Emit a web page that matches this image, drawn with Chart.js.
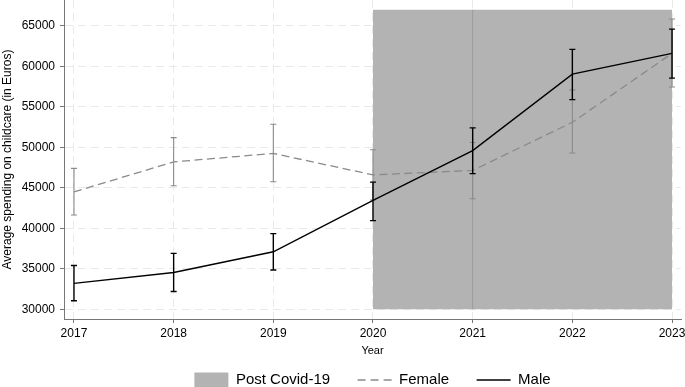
<!DOCTYPE html>
<html>
<head>
<meta charset="utf-8">
<script src="https://cdn.jsdelivr.net/npm/chart.js@4"></script>
<style>
  html, body { margin: 0; padding: 0; background: #fff; }
  #wrap { position: relative; width: 685px; height: 387px; }
</style>
</head>
<body>
<div id="wrap"><canvas id="chart"></canvas></div>
<script>
// ── Data ────────────────────────────────────────────────────
const years = [2017, 2018, 2019, 2020, 2021, 2022, 2023];
const maleMean = [33200, 34550, 37100, 43450, 49600, 59050, 61600];
const maleLow  = [31050, 32200, 34850, 40950, 46750, 55900, 58550];
const maleHigh = [35400, 36900, 39350, 45700, 52400, 62100, 64600];
const femaleMean = [44500, 48200, 49250, 46600, 47150, 53100, 61600];
const femaleLow  = [41650, 45250, 45750, 43500, 43650, 49300, 57450];
const femaleHigh = [47400, 51200, 52850, 49700, 50600, 57100, 65850];
const yTicks = [30000, 35000, 40000, 45000, 50000, 55000, 60000, 65000];
const covidYears = [2020, 2023];
const covidRange = [30000, 67000];
const markYear = 2021;

const FONT = '"Liberation Sans", Arial, Helvetica, sans-serif';
const COVID_GREY = '#b3b3b3';
const FEMALE_GREY = '#8a8a8a';
const AXIS_GREY = '#777777';

const pts = (xs, ys) => xs.map((x, i) => ({ x: x, y: ys[i] }));

// ── Error bars, drawn right after their own line ────────────
const errorBars = {
  id: 'errorBars',
  afterDatasetDraw(chart, args) {
    const ds = chart.data.datasets[args.index];
    if (!ds.errLow) return;
    const { ctx, scales: { x, y } } = chart;
    const cap = 3;
    ctx.save();
    ctx.strokeStyle = ds.borderColor;
    ctx.lineWidth = ds.errWidth;
    ctx.setLineDash([]);
    ds.data.forEach((p, i) => {
      const px = x.getPixelForValue(p.x);
      const lo = y.getPixelForValue(ds.errLow[i]);
      const hi = y.getPixelForValue(ds.errHigh[i]);
      ctx.beginPath();
      ctx.moveTo(px, lo); ctx.lineTo(px, hi);
      ctx.moveTo(px - cap, lo); ctx.lineTo(px + cap, lo);
      ctx.moveTo(px - cap, hi); ctx.lineTo(px + cap, hi);
      ctx.stroke();
    });
    ctx.restore();
  }
};

new Chart(document.getElementById('chart'), {
  type: 'line',
  data: {
    datasets: [
      {
        label: 'Male',
        data: pts(years, maleMean),
        errLow: maleLow, errHigh: maleHigh, errWidth: 1.4,
        borderColor: '#000000', borderWidth: 1.4,
        pointRadius: 0, tension: 0, fill: false
      },
      {
        label: 'Female',
        data: pts(years, femaleMean),
        errLow: femaleLow, errHigh: femaleHigh, errWidth: 1.1,
        borderColor: FEMALE_GREY, borderWidth: 1.3, borderDash: [8, 4.5],
        pointRadius: 0, tension: 0, fill: false
      },
      {
        label: 'marker',
        data: pts([markYear, markYear], covidRange),
        borderColor: '#9a9a9a', borderWidth: 1,
        pointRadius: 0, fill: false
      },
      {
        label: 'Post Covid-19',
        data: pts(covidYears, [covidRange[1], covidRange[1]]),
        borderWidth: 0, borderColor: COVID_GREY, backgroundColor: COVID_GREY,
        pointRadius: 0, fill: { value: covidRange[0] }
      }
    ]
  },
  options: {
    responsive: true,
    maintainAspectRatio: false,
    animation: false,
    layout: { padding: { top: 0, left: 0, right: 4, bottom: -10.5 } },
    scales: {
      x: {
        type: 'linear',
        min: 2016.9,
        max: 2023.09,
        afterBuildTicks: s => { s.ticks = years.map(v => ({ value: v })); },
        afterFit: s => { s.paddingRight = 0; },
        ticks: {
          padding: 3,
          color: '#000',
          font: { family: FONT, size: 12 },
          callback: v => String(v)
        },
        grid: { color: '#e9e9e9', lineWidth: 1, tickLength: 4, tickColor: AXIS_GREY },
        border: { color: AXIS_GREY, width: 1, dash: [8, 5] },
        title: {
          display: true, text: 'Year', color: '#000',
          font: { family: FONT, size: 11 },
          padding: { top: 1, bottom: -12.6 }
        }
      },
      y: {
        type: 'linear',
        min: 28800,
        max: 68200,
        afterBuildTicks: s => { s.ticks = yTicks.map(v => ({ value: v })); },
        afterFit: s => { s.width = 64; s.paddingTop = 0; s.paddingBottom = 0; },
        ticks: {
          padding: 5,
          color: '#000',
          font: { family: FONT, size: 12 },
          callback: v => String(v)
        },
        grid: { color: '#e9e9e9', lineWidth: 1, tickLength: 4, tickColor: AXIS_GREY },
        border: { color: AXIS_GREY, width: 1, dash: [8, 5] },
        title: {
          display: true, text: 'Average spending on childcare (in Euros)', color: '#000',
          font: { family: FONT, size: 12 },
          padding: { top: 0, bottom: 0 }
        }
      }
    },
    plugins: {
      tooltip: { enabled: false },
      legend: {
        position: 'bottom',
        fullSize: false,
        labels: {
          usePointStyle: true,
          pointStyleWidth: 34,
          boxHeight: 15,
          padding: 27.5,
          color: '#000',
          font: { family: FONT, size: 15 },
          generateLabels: () => [
            { text: 'Post Covid-19', pointStyle: 'rect', fillStyle: COVID_GREY, strokeStyle: COVID_GREY, lineWidth: 0, fontColor: '#000' },
            { text: 'Female', pointStyle: 'line', fillStyle: 'transparent', strokeStyle: FEMALE_GREY, lineWidth: 1.3, lineDash: [8, 5], fontColor: '#000' },
            { text: 'Male', pointStyle: 'line', fillStyle: 'transparent', strokeStyle: '#000', lineWidth: 1.4, fontColor: '#000' }
          ]
        }
      }
    }
  },
  plugins: [errorBars]
});
</script>
</body>
</html>
